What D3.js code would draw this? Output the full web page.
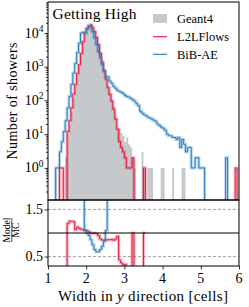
<!DOCTYPE html>
<html>
<head>
<meta charset="utf-8">
<script src="https://cdn.jsdelivr.net/npm/d3@7"></script>
<style>
  body { margin: 0; background: #fff; }
</style>
</head>
<body>
<div id="chart"></div>
<script>
// bins: 1.00 .. 6.00 in steps of 0.05 (100 bins)
const binStart = 1, binWidth = 0.05;

const geant4 = [
  0, 0, 0, 0, 0, 0, 0, 0, 0, 2,
  10, 20, 48, 125, 280, 560, 1050, 2300, 5200, 9500,
  13000, 16000, 17500, 14500, 11000, 7500, 4700, 2800, 1600, 900,
  500, 280, 175, 110, 65, 32, 15, 14, 11, 9,
  6, 8, 5, 4, 2, 1, 0, 0, 0, 3,
  1, 0, 1, 1, 1, 0, 0, 0, 0, 1,
  1, 0, 0, 0, 0, 1, 0, 0, 0, 0,
  1, 1, 0, 0, 0, 0, 0, 0, 0, 0,
  0, 0, 0, 0, 0, 0, 0, 0, 0, 0,
  0, 0, 0, 0, 0, 0, 0, 0, 0, 0
];

const l2lflows = [
  0, 0, 0, 0, 0, 0, 1, 1, 0, 0,
  12, 25, 60, 155, 300, 630, 1150, 2480, 5560, 10000,
  13600, 16400, 17500, 14400, 11000, 7400, 4450, 2450, 1360, 765,
  425, 240, 150, 95, 55, 28, 14, 6, 4, 3,
  2, 1, 1, 1, 2, 0, 0, 0, 0, 0,
  1, 0, 0, 0, 0, 0, 0, 0, 0, 0,
  0, 0, 0, 0, 0, 0, 0, 0, 0, 0,
  0, 0, 0, 0, 0, 0, 0, 0, 0, 0,
  0, 0, 0, 0, 0, 0, 0, 0, 0, 0,
  0, 0, 0, 0, 0, 0, 0, 0, 1, 0
];

const bibae = [
  0, 0, 0, 0, 1, 1, 3, 6, 12, 25,
  60, 130, 300, 650, 1250, 2600, 5000, 10000, 10500, 10100,
  13000, 15200, 15000, 10900, 7150, 4500, 2820, 1820, 1150, 740,
  525, 500, 380, 320, 260, 230, 200, 185, 175, 160,
  140, 130, 125, 115, 105, 95, 80, 70, 48, 42,
  38, 35, 32, 30, 28, 26, 24, 20, 18, 16,
  15, 13, 10, 9, 9, 8, 8, 7, 8, 4,
  7, 5, 3, 4, 4, 1, 1, 2, 2, 1,
  1, 1, 0, 0, 0, 0, 0, 0, 0, 0,
  0, 0, 0, 2, 0, 0, 0, 0, 0, 0
];

const xTicks = [1, 2, 3, 4, 5, 6];
const yMajor = [1, 10, 100, 1000, 10000];
const ratioTicks = [0.5, 1.5];
const legendNames = ["Geant4", "L2LFlows", "BiB-AE"];

const colGeant = "#c6c9cc";
const colRed = "#e5203f";
const colBlue = "#2a80c4";
const serif = "'Liberation Serif', 'DejaVu Serif', serif";

const W = 249, H = 307;
const pLeft = 48, pRight = 239, pTop = 2, pMid = 200, pBottom = 266;

const svg = d3.select("#chart").append("svg")
  .attr("width", W).attr("height", H)
  .attr("font-family", serif);

const x = d3.scaleLinear().domain([1, 6]).range([pLeft, pRight]);
const y = d3.scaleLog().domain([0.112, 83000]).range([pMid, pTop]);
const r = d3.scaleLinear().domain([0.3, 1.7]).range([pBottom, pMid]);

const defs = svg.append("defs");
defs.append("clipPath").attr("id", "clipMain")
  .append("rect").attr("x", pLeft).attr("y", pTop).attr("width", pRight - pLeft).attr("height", pMid - pTop);
defs.append("clipPath").attr("id", "clipRatio")
  .append("rect").attr("x", pLeft).attr("y", pMid).attr("width", pRight - pLeft).attr("height", pBottom - pMid);

const edge = i => binStart + binWidth * i;

// turn bin values into step points
function steps(values) {
  const pts = [];
  values.forEach((v, i) => {
    pts.push({ x: edge(i), v: v });
    pts.push({ x: edge(i + 1), v: v });
  });
  return pts;
}

const yv = v => (v > 0 ? y(v) : pMid + 20);

const mainG = svg.append("g").attr("clip-path", "url(#clipMain)");

// Geant4 filled
const area = d3.area()
  .x(d => x(d.x))
  .y0(pMid)
  .y1(d => (d.v > 0 ? y(d.v) : pMid));
mainG.append("path")
  .datum(steps(geant4))
  .attr("d", area)
  .attr("fill", colGeant);

const mainLine = d3.line().x(d => x(d.x)).y(d => yv(d.v));

[[l2lflows, colRed], [bibae, colBlue]].forEach(([vals, col]) => {
  const pts = steps(vals);
  mainG.append("path").datum(pts).attr("d", mainLine)
    .attr("fill", "none").attr("stroke", col).attr("stroke-width", 3).attr("stroke-opacity", 0.35);
  mainG.append("path").datum(pts).attr("d", mainLine)
    .attr("fill", "none").attr("stroke", col).attr("stroke-width", 1);
});

// ratio panel
const ratioG = svg.append("g").attr("clip-path", "url(#clipRatio)");

[0.5, 1.5].forEach(v => {
  ratioG.append("line")
    .attr("x1", pLeft).attr("x2", pRight).attr("y1", r(v)).attr("y2", r(v))
    .attr("stroke", "#999").attr("stroke-width", 0.9).attr("stroke-dasharray", "3,2");
});

const ratioLine = d3.line()
  .defined(d => isFinite(d.v))
  .x(d => x(d.x)).y(d => r(Math.min(d.v, 3)));

[[l2lflows, colRed], [bibae, colBlue]].forEach(([vals, col]) => {
  const ratio = vals.map((v, i) => (geant4[i] > 0 ? v / geant4[i] : NaN));
  const pts = steps(ratio);
  ratioG.append("path").datum(pts).attr("d", ratioLine)
    .attr("fill", "none").attr("stroke", col).attr("stroke-width", 3).attr("stroke-opacity", 0.35);
  ratioG.append("path").datum(pts).attr("d", ratioLine)
    .attr("fill", "none").attr("stroke", col).attr("stroke-width", 1);
});

ratioG.append("line")
  .attr("x1", pLeft).attr("x2", pRight).attr("y1", r(1)).attr("y2", r(1))
  .attr("stroke", "#000").attr("stroke-width", 1);

// frames
svg.append("rect").attr("x", pLeft).attr("y", pTop).attr("width", pRight - pLeft).attr("height", pMid - pTop)
  .attr("fill", "none").attr("stroke", "#000").attr("stroke-width", 1);
svg.append("rect").attr("x", pLeft).attr("y", pMid).attr("width", pRight - pLeft).attr("height", pBottom - pMid)
  .attr("fill", "none").attr("stroke", "#000").attr("stroke-width", 1);

// y axis main (log) with minor ticks
const minor = [];
[-1, 0, 1, 2, 3, 4].forEach(p => {
  for (let k = 2; k <= 9; k++) {
    const v = k * Math.pow(10, p);
    if (v > 0.112 && v < 83000) minor.push(v);
  }
});
svg.append("g").attr("transform", `translate(${pLeft},0)`)
  .call(d3.axisLeft(y).tickValues(minor).tickSize(2).tickFormat(""))
  .call(g => g.select(".domain").remove());
svg.append("g").attr("transform", `translate(${pLeft},0)`)
  .call(d3.axisLeft(y).tickValues(yMajor).tickSize(3.5).tickFormat(""))
  .call(g => g.select(".domain").remove());
yMajor.forEach(v => {
  const t = svg.append("text")
    .attr("x", pLeft - 4.5).attr("y", y(v) + 4.5)
    .attr("text-anchor", "end").attr("font-size", 14);
  t.append("tspan").text("10");
  t.append("tspan").attr("dy", -5.5).attr("font-size", 9.5).text(Math.round(Math.log10(v)));
});

// ratio y axis
svg.append("g").attr("transform", `translate(${pLeft},0)`)
  .call(d3.axisLeft(r).tickValues(ratioTicks).tickSize(3.5).tickFormat(""))
  .call(g => g.select(".domain").remove());
ratioTicks.forEach(v => {
  svg.append("text").attr("x", pLeft - 5).attr("y", r(v) + 4.7)
    .attr("text-anchor", "end").attr("font-size", 14).text(d3.format(".1f")(v));
});

// x axis
svg.append("g").attr("transform", `translate(0,${pBottom})`)
  .call(d3.axisBottom(x).tickValues(xTicks).tickSize(3.5).tickFormat(""))
  .call(g => g.select(".domain").remove());
xTicks.forEach(v => {
  svg.append("text").attr("x", x(v)).attr("y", 282.5)
    .attr("text-anchor", "middle").attr("font-size", 14).text(v);
});
svg.selectAll(".tick line").attr("stroke", "#000").attr("stroke-width", 0.8);

// axis labels
const xl = svg.append("text").attr("x", 58).attr("y", 300.5)
  .attr("font-size", 15)
  .attr("textLength", 170).attr("lengthAdjust", "spacing");
xl.append("tspan").text("Width in ");
xl.append("tspan").attr("font-style", "italic").text("y");
xl.append("tspan").text(" direction [cells]");

svg.append("text")
  .attr("transform", `translate(17,${(pTop + pMid) / 2}) rotate(-90)`)
  .attr("text-anchor", "middle").attr("font-size", 14)
  .attr("textLength", 117).attr("lengthAdjust", "spacing")
  .text("Number of showers");

// Model / MC fraction
const fy = (pMid + pBottom) / 2 - 3;
svg.append("text").attr("transform", `translate(10,${fy}) rotate(-90)`)
  .attr("text-anchor", "middle").attr("font-size", 9.5).text("Model");
svg.append("line").attr("x1", 11.8).attr("x2", 11.8).attr("y1", fy - 12).attr("y2", fy + 12)
  .attr("stroke", "#000").attr("stroke-width", 0.7);
svg.append("text").attr("transform", `translate(19,${fy}) rotate(-90)`)
  .attr("text-anchor", "middle").attr("font-size", 9.5).text("MC");

// title
svg.append("text").attr("x", 52.5).attr("y", 18.5)
  .attr("font-size", 15.5)
  .attr("textLength", 84).attr("lengthAdjust", "spacing")
  .text("Getting High");

// legend
const lg = svg.append("g");
lg.append("rect").attr("x", 153).attr("y", 14).attr("width", 14).attr("height", 9).attr("fill", colGeant);
[[colRed, 36.7], [colBlue, 54.3]].forEach(([c, ly]) => {
  lg.append("line").attr("x1", 153).attr("x2", 167).attr("y1", ly).attr("y2", ly)
    .attr("stroke", c).attr("stroke-width", 1.2);
});
legendNames.forEach((n, i) => {
  lg.append("text").attr("x", 177).attr("y", 22.5 + i * 18.2)
    .attr("font-size", 12.5).text(n);
});
</script>
</body>
</html>
